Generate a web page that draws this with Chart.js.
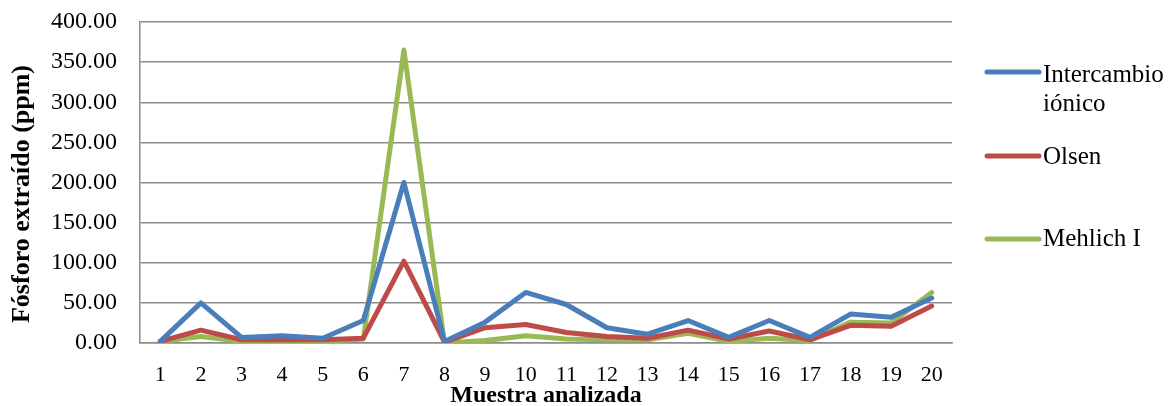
<!DOCTYPE html>
<html>
<head>
<meta charset="utf-8">
<script src="https://cdn.jsdelivr.net/npm/chart.js@4/dist/chart.umd.min.js"></script>
<style>
  html, body { margin: 0; padding: 0; background: #ffffff; }
  #wrap { position: relative; width: 1175px; height: 406px; }
</style>
</head>
<body>
<div id="wrap"><canvas id="c" width="1175" height="406"></canvas></div>
<script>
// Muestras de suelo analizadas
const muestras = ['1','2','3','4','5','6','7','8','9','10','11','12','13','14','15','16','17','18','19','20'];

// Fósforo extraído (ppm) por método
const intercambioIonico = [2, 50, 7, 9, 6, 28, 200, 2, 26, 63, 48, 19, 11, 28, 7, 28, 7, 36, 32, 56];
const olsen             = [2, 16, 4, 4, 4, 6, 102, 1, 19, 23, 13, 8, 6, 16, 5, 15, 4, 22, 21, 46];
const mehlichI          = [2, 8, 2, 2, 2, 5, 365, 0, 3, 9, 5, 4, 4, 12, 2, 6, 3, 26, 25, 63];

// Etiquetas de la leyenda (una línea por elemento)
const etiquetas = [['Intercambio', 'iónico'], ['Olsen'], ['Mehlich I']];
const colores = ['#4A7EBB', '#BE4B48', '#98B954'];
const tituloY = 'Fósforo extraído (ppm)';

const serif = '"Liberation Serif", "Times New Roman", serif';
const gridColor = '#8c8c8c';

// Título vertical del eje Y y leyenda a la derecha del gráfico
const rotulos = {
  id: 'rotulos',
  afterDraw(chart) {
    const ctx = chart.ctx;
    ctx.save();
    ctx.translate(22, 194);
    ctx.rotate(-Math.PI / 2);
    ctx.fillStyle = '#000';
    ctx.font = 'bold 26px ' + serif;
    ctx.textAlign = 'center';
    ctx.textBaseline = 'middle';
    ctx.fillText(tituloY, 0, 0);
    ctx.restore();

    const filas = [
      { linea: 72, base: 82 },
      { linea: 156, base: 164 },
      { linea: 239, base: 246 }
    ];
    ctx.save();
    chart.data.datasets.forEach((ds, i) => {
      const f = filas[i];
      ctx.strokeStyle = ds.borderColor;
      ctx.lineWidth = 5;
      ctx.lineCap = 'round';
      ctx.beginPath();
      ctx.moveTo(987, f.linea);
      ctx.lineTo(1039, f.linea);
      ctx.stroke();
      ctx.fillStyle = '#000';
      ctx.font = '25px ' + serif;
      ctx.textBaseline = 'alphabetic';
      ctx.textAlign = 'left';
      etiquetas[i].forEach((t, k) => ctx.fillText(t, 1043, f.base + k * 29));
    });
    ctx.restore();
  }
};

new Chart(document.getElementById('c'), {
  type: 'line',
  data: {
    labels: muestras,
    datasets: [
      { label: 'Intercambio iónico', data: intercambioIonico, borderColor: colores[0] },
      { label: 'Olsen', data: olsen, borderColor: colores[1] },
      { label: 'Mehlich I', data: mehlichI, borderColor: colores[2] }
    ].map(d => Object.assign(d, {
      borderWidth: 5,
      pointRadius: 0,
      tension: 0,
      fill: false,
      borderJoinStyle: 'round',
      borderCapStyle: 'round'
    }))
  },
  options: {
    responsive: false,
    animation: false,
    layout: { padding: { left: 0, right: 223, top: 22, bottom: 0 } },
    plugins: {
      legend: { display: false },
      tooltip: { enabled: false }
    },
    scales: {
      x: {
        offset: true,
        grid: { display: false, drawTicks: false },
        border: { display: true, color: gridColor, width: 1.5 },
        ticks: { color: '#000', font: { family: serif, size: 22 }, padding: 19, maxRotation: 0, autoSkip: false },
        title: { display: true, text: 'Muestra analizada', color: '#000',
                 font: { family: serif, size: 24, weight: 'bold' }, padding: { top: 0, bottom: -4 } },
        afterFit(scale) { scale.height = 63; }
      },
      y: {
        min: 0,
        max: 400,
        grid: { color: gridColor, lineWidth: 1.5, drawTicks: false },
        border: { display: true, color: gridColor, width: 1.5 },
        ticks: {
          stepSize: 50,
          color: '#000',
          font: { family: serif, size: 24 },
          padding: 23,
          callback: v => Number(v).toFixed(2)
        },
        afterFit(scale) {
          scale.width = 140;
          scale.paddingTop = 0;
          scale.paddingBottom = 0;
        }
      }
    }
  },
  plugins: [rotulos]
});
</script>
</body>
</html>
